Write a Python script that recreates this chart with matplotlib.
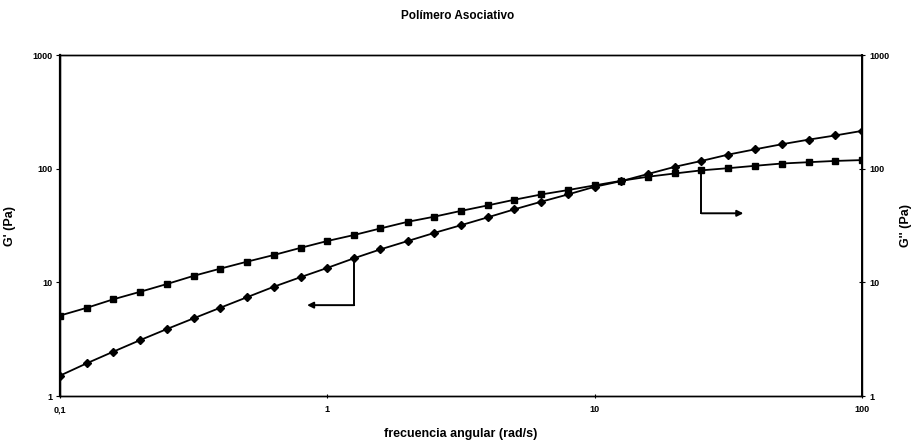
import numpy as np
import matplotlib
matplotlib.use('Agg')
import matplotlib.pyplot as plt

plt.rcParams['font.family'] = ['Liberation Sans', 'DejaVu Sans']
plt.rcParams['font.weight'] = 'bold'

# frecuencia angular (rad/s), 10 puntos por decada
freq = [0.1, 0.126, 0.158, 0.2, 0.251, 0.316, 0.398, 0.501, 0.631, 0.794,
        1.0, 1.26, 1.58, 2.0, 2.51, 3.16, 3.98, 5.01, 6.31, 7.94,
        10.0, 12.6, 15.8, 20.0, 25.1, 31.6, 39.8, 50.1, 63.1, 79.4, 100.0]

# G' (Pa) - rombos, eje izquierdo
g1 = [1.51, 1.94, 2.45, 3.11, 3.88, 4.82, 5.98, 7.4, 9.15, 11.1,
      13.4, 16.3, 19.5, 23.1, 27.2, 31.8, 37.3, 43.9, 51.2, 59.3,
      69.3, 77.8, 89.7, 104, 117, 133, 148, 164, 180, 196, 215]

# G'' (Pa) - cuadrados, eje derecho
g2 = [5.1, 5.97, 7.08, 8.27, 9.66, 11.4, 13.2, 15.2, 17.4, 20.1,
      23.1, 26.1, 29.8, 34.1, 37.8, 42.5, 47.5, 53.3, 59.3, 64.8,
      71.3, 78.3, 84.9, 90.8, 96.7, 101, 106, 111, 114, 117, 119]

ticks = [1, 10, 100, 1000]
tick_labels = ['1', '10', '100', '1000']
xticks = [0.1, 1, 10, 100]
xtick_labels = ['0,1', '1', '10', '100']

# flechas que indican el eje de cada curva
arrow_left = {'x': 1.26, 'y0': 16.3, 'y1': 6.3, 'x1': 0.84}
arrow_right = {'x': 25.1, 'y0': 96.7, 'y1': 40.5, 'x1': 36.0}

fig = plt.figure(figsize=(9.14, 4.44), dpi=100)
ax = fig.add_axes([0.0656, 0.1081, 0.8775, 0.768])
ax2 = ax.twinx()

ax.plot(freq, g1, color='black', lw=1.3, marker='D', markersize=3.8)
ax2.plot(freq, g2, color='black', lw=1.3, marker='s', markersize=4.5)

for a in (ax, ax2):
    a.set_xscale('log')
    a.set_yscale('log')
    a.set_xlim(0.1, 100)
    a.set_ylim(1, 1000)
    a.set_yticks(ticks)
    a.set_yticklabels(tick_labels)
    a.minorticks_off()
    for s in a.spines.values():
        s.set_linewidth(1.0)

ax.set_xticks(xticks)
ax.set_xticklabels(xtick_labels)
ax.tick_params(axis='x', labelsize=6.5, length=3, direction='inout', pad=5)
ax.tick_params(axis='y', labelsize=6.5, length=3, direction='out', pad=2)
ax2.tick_params(axis='y', labelsize=6.5, length=4, direction='inout', pad=3)
ax.spines['left'].set_linewidth(1.6)
ax2.spines['right'].set_linewidth(1.4)

# flecha izquierda (G')
ax.plot([arrow_left['x'], arrow_left['x']], [arrow_left['y0'], arrow_left['y1']],
        color='black', lw=1.4)
ax.annotate('', xy=(arrow_left['x1'], arrow_left['y1']),
            xytext=(arrow_left['x'], arrow_left['y1']),
            arrowprops=dict(arrowstyle='-|>', color='black', lw=1.4,
                            mutation_scale=9, shrinkA=0, shrinkB=0))
# flecha derecha (G'')
ax.plot([arrow_right['x'], arrow_right['x']], [arrow_right['y0'], arrow_right['y1']],
        color='black', lw=1.4)
ax.annotate('', xy=(arrow_right['x1'], arrow_right['y1']),
            xytext=(arrow_right['x'], arrow_right['y1']),
            arrowprops=dict(arrowstyle='-|>', color='black', lw=1.4,
                            mutation_scale=9, shrinkA=0, shrinkB=0))

fig.text(0.501, 0.965, 'Polímero Asociativo', ha='center', va='center',
         fontsize=8.5, fontweight='bold')
ax.set_xlabel('frecuencia angular (rad/s)', fontsize=9, fontweight='bold', labelpad=10)
ax.set_ylabel("G' (Pa)", fontsize=9, fontweight='bold', labelpad=12)
ax2.set_ylabel("G'' (Pa)", fontsize=9, fontweight='bold', labelpad=8)

plt.savefig('out.png', dpi=100)
